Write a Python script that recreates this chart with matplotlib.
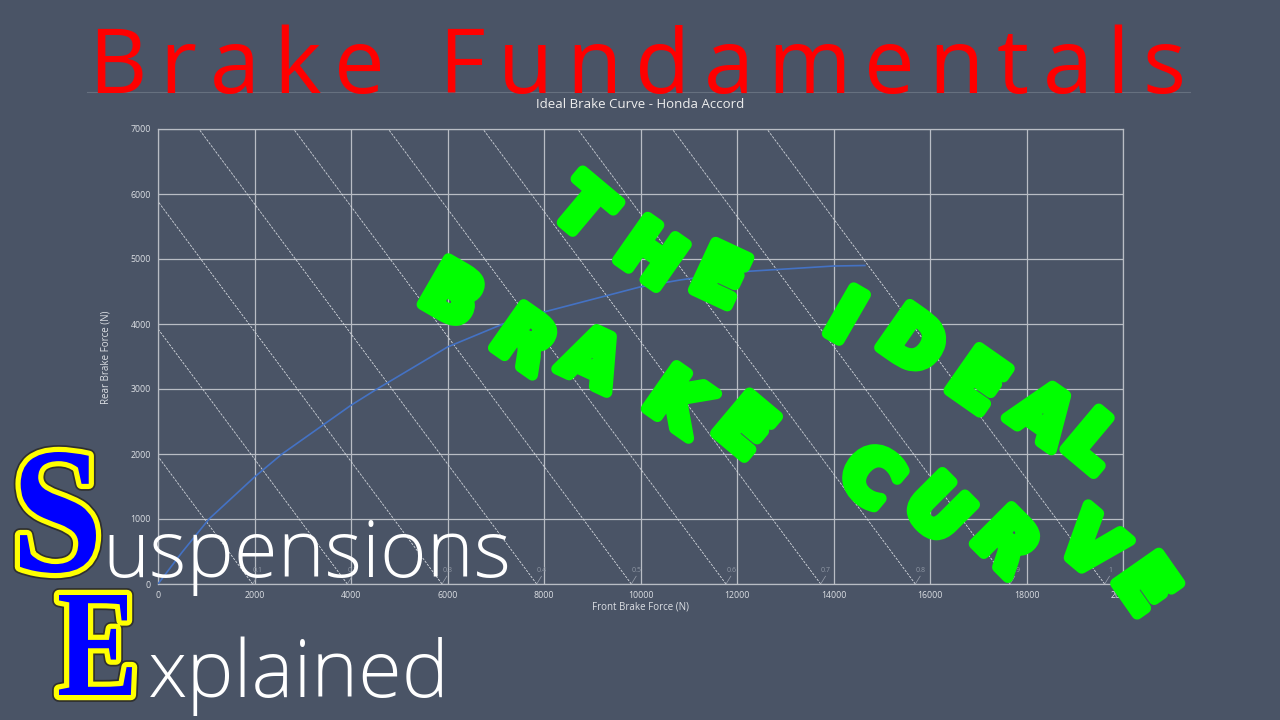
import numpy as np
import matplotlib
matplotlib.use("Agg")
import matplotlib.pyplot as plt
import matplotlib.patheffects as pe
from matplotlib.textpath import TextPath
from matplotlib.patches import PathPatch
from matplotlib.font_manager import FontProperties
from matplotlib.transforms import Affine2D, IdentityTransform

# --- data ---
front_force = [0, 500, 1057, 2000, 2570, 4000, 4539, 6000, 7150, 8000, 9990, 10819, 12000, 14000, 14650]
rear_force = [0, 490, 1000, 1646, 2000, 2750, 3000, 3646, 4000, 4185, 4570, 4677, 4800, 4892, 4900]
decel_levels = [0.1, 0.2, 0.3, 0.4, 0.5, 0.6, 0.7, 0.8, 0.9, 1.0]
vehicle_weight = 19620  # N, total brake force at 1 g
x_ticks = list(range(0, 20001, 2000))
y_ticks = list(range(0, 7001, 1000))

BG = "#4a5466"
GRID = "#b9bdc5"
W, H = 1280, 720

fig = plt.figure(figsize=(12.8, 7.2), dpi=100, facecolor=BG)
renderer = fig.canvas.get_renderer()

def fx(px):
    return px / W

def fy(py):
    return 1 - py / H

# faint chart-area border
fig.add_artist(plt.Line2D([fx(87), fx(1190)], [fy(92), fy(92)], color="#66707f", lw=0.8, zorder=0))

# --- chart ---
ax = fig.add_axes([fx(158), fy(584), fx(1123) - fx(158), (584 - 129) / H])
ax.set_facecolor(BG)
ax.set_xlim(0, 20000)
ax.set_ylim(0, 7000)
ax.set_xticks(x_ticks)
ax.set_yticks(y_ticks)
ax.grid(True, color=GRID, lw=0.9)
for s in ax.spines.values():
    s.set_color(GRID)
    s.set_linewidth(0.9)
ax.tick_params(length=0, labelsize=6.3, labelcolor="#dcdfe4", pad=5)
for lab in ax.get_xticklabels() + ax.get_yticklabels():
    lab.set_family("Open Sans")

# constant deceleration lines
for d in decel_levels:
    total = d * vehicle_weight
    ax.plot([total, total - 7000], [0, 7000], color="#d4d8de", lw=0.6,
            ls=(0, (3, 1.5)), zorder=2)
    ax.plot([total, total + 100], [0, 120], color="#9aa1ad", lw=0.5, zorder=2)
    ax.text(total + 110, 150, f"{d:g}", fontsize=5, color="#8f97a4", ha="center",
            va="bottom", family="Open Sans", zorder=2)

ax.plot(front_force, rear_force, color="#4472c4", lw=1.2, zorder=3)

fig.text(0.5, fy(105), "Ideal Brake Curve - Honda Accord", fontsize=9.5, color="#eeeeee",
         ha="center", va="center", family="Open Sans")
fig.text(0.5, fy(607), "Front Brake Force (N)", fontsize=7, color="#dcdfe4",
         ha="center", va="center", family="Open Sans")
fig.text(fx(106), fy(357), "Rear Brake Force (N)", fontsize=7, color="#dcdfe4",
         ha="center", va="center", rotation=90, family="Open Sans")

# --- big red title with wide letter spacing ---
title = "Brake Fundamentals"
left, right, base = 88, 1185, 93
chars = []
for ch in title:
    if ch == " ":
        chars.append(None)
        continue
    t = fig.text(0, fy(base), ch, fontsize=65, color="#ff0000", ha="left",
                 va="baseline", family="Open Sans")
    chars.append(t)
widths = [c.get_window_extent(renderer).width if c is not None else 0 for c in chars]
word_extra = 40
n_gaps = len(title) - 2
track = (right - left - sum(widths) - word_extra) / n_gaps
x = left
for c, w in zip(chars, widths):
    if c is None:
        x += word_extra
        continue
    c.set_x(fx(x))
    x += w + track

# --- logo: outlined serif letters squeezed into their boxes ---
serif = FontProperties(family="Liberation Serif", weight="bold")

def logo_letter(ch, x0, x1, top, bottom):
    tp = TextPath((0, 0), ch, size=100, prop=serif)
    ext = tp.get_extents()
    sx = (x1 - x0) / ext.width
    sy = (bottom - top) / ext.height
    tr = Affine2D().translate(-ext.x0, -ext.y0).scale(sx, sy).translate(x0, H - bottom)
    path = tr.transform_path(tp)
    fig.add_artist(PathPatch(path, transform=IdentityTransform(), fc="none",
                             ec="#2f3030", lw=10, joinstyle="round", zorder=4))
    fig.add_artist(PathPatch(path, transform=IdentityTransform(), fc="none",
                             ec="#ffff00", lw=7.5, joinstyle="round", zorder=4))
    fig.add_artist(PathPatch(path, transform=IdentityTransform(), fc="#0000ff",
                             ec="none", zorder=4))

logo_letter("S", 20, 96, 452, 573)
logo_letter("E", 59, 132, 595, 695)

def fit_text(s, x0, x1, base, size):
    t = fig.text(fx(x0), fy(base), s, fontsize=size, color="white", ha="left",
                 va="baseline", family="Open Sans", weight="light")
    w = t.get_window_extent(renderer).width
    t.set_fontsize(size * (x1 - x0) / w)
    return t

fit_text("uspensions", 102, 510, 577, 55)
fit_text("xplained", 148, 450, 697, 55)

# --- hand-written green annotation ---
green_fx = [pe.Stroke(linewidth=8, foreground="#00ff00", joinstyle="round", capstyle="round"), pe.Normal()]
letters = [
    ("T", 580, 212, -40), ("H", 648, 258, -35), ("E", 718, 280, -25),
    ("I", 843, 320, -30), ("D", 910, 345, -35), ("E", 975, 385, -35),
    ("A", 1040, 418, -35), ("L", 1090, 445, -40),
    ("B", 450, 298, -30), ("R", 522, 344, -35), ("A", 590, 363, -25),
    ("K", 675, 405, -35), ("E", 742, 430, -40),
    ("C", 868, 480, -40), ("U", 935, 512, -45), ("R", 1003, 545, -45),
    ("V", 1088, 548, -40), ("E", 1142, 587, -55),
]
for ch, px, py, rot in letters:
    fig.text(fx(px), fy(py), ch, fontsize=52, color="#00ff00", weight="bold",
             family="DejaVu Sans", ha="center", va="center", rotation=rot,
             rotation_mode="anchor", path_effects=green_fx, zorder=5)

fig.savefig("out.png", dpi=100, facecolor=BG)
